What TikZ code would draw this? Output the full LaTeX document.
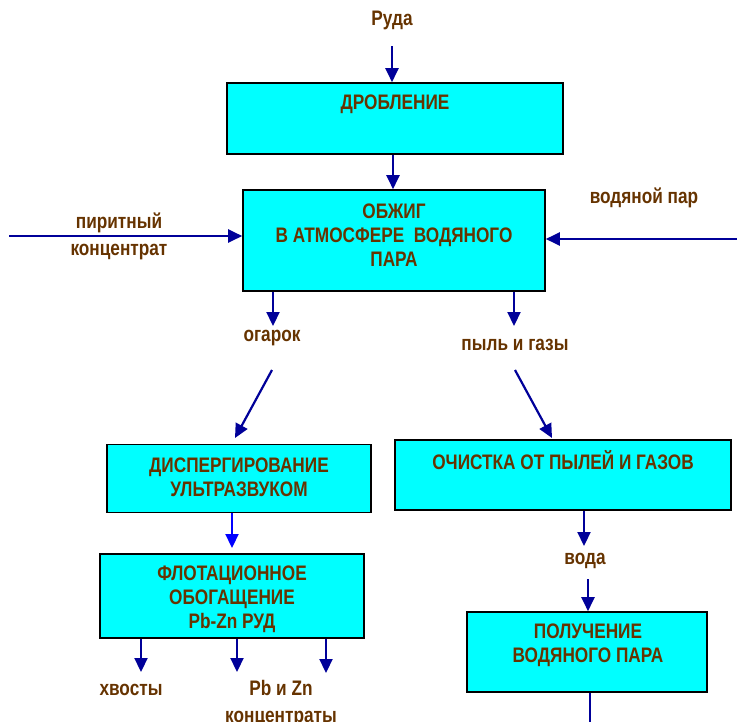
\documentclass[tikz,border=0pt]{standalone}
\usepackage{fontspec}
\setmainfont{Liberation Sans}[FakeStretch=0.82]
\usetikzlibrary{arrows.meta}
\definecolor{boxcyan}{RGB}{0,255,255}
\definecolor{txtbrown}{RGB}{102,51,0}
\definecolor{arrnavy}{RGB}{0,0,153}
\definecolor{arrblue}{RGB}{0,0,255}
\begin{document}
\begin{tikzpicture}[x=1pt,y=-1pt,
  box/.style={draw=black, line width=1.6pt, fill=boxcyan, rectangle, inner sep=0pt},
  lbl/.style={text=txtbrown, font=\bfseries\fontsize{21}{24}\selectfont, align=center, inner sep=0pt},
  arr/.style={draw=arrnavy, line width=2.2pt, -{Triangle[length=14pt,width=13pt]}},
  plainline/.style={draw=arrnavy, line width=2.2pt},
]
\useasboundingbox (0,0) rectangle (737,721);

% boxes
\node[box, minimum width=336pt, minimum height=71pt] (drob) at (395,118.5) {};
\node[box, minimum width=302pt, minimum height=101pt] (obzh) at (394,240.5) {};
\node[box, minimum width=264pt, minimum height=68pt] (disp) at (239,478.5) {};
\node[box, minimum width=336pt, minimum height=70pt] (ochist) at (563,475) {};
\node[box, minimum width=264pt, minimum height=84pt] (flot) at (232,596) {};
\node[box, minimum width=240pt, minimum height=80pt] (polu) at (587,652) {};

% box texts
\node[lbl] (tdrob) at (395,104) {ДРОБЛЕНИЕ};
\node[lbl] (tobzh) at (394,235) {ОБЖИГ\\В АТМОСФЕРЕ\ \ ВОДЯНОГО\\ПАРА};
\node[lbl] (tdisp) at (239,477) {ДИСПЕРГИРОВАНИЕ\\УЛЬТРАЗВУКОМ};
\node[lbl] (tochist) at (563,460) {ОЧИСТКА ОТ ПЫЛЕЙ И ГАЗОВ};
\node[lbl] (tflot) at (232,599) {ФЛОТАЦИОННОЕ\\ОБОГАЩЕНИЕ\\Pb-Zn РУД};
\node[lbl] (tpolu) at (588,645) {ПОЛУЧЕНИЕ\\ВОДЯНОГО ПАРА};

% free labels
\node[lbl] (ruda) at (392,20) {Руда};
\node[lbl] (pirit) at (119,236) {пиритный\\[3pt]концентрат};
\node[lbl] (vodpar) at (644,198) {водяной пар};
\node[lbl] (ogarok) at (272,338) {огарок};
\node[lbl] (pyl) at (515,345) {пыль и газы};
\node[lbl] (voda) at (585,561) {вода};
\node[lbl] (hvost) at (131,690) {хвосты};
\node[lbl, anchor=north] (pbzn) at (281,680) {Pb и Zn\\[3pt]концентраты};

% free ends
\coordinate (rudaA) at (392,46);
\coordinate (piritA) at (9,236);
\coordinate (vodparA) at (737,239);
\coordinate (ogarokE) at (273,326);
\coordinate (pylE) at (514,326);
\coordinate (diagLs) at (272,370);
\coordinate (diagLe) at (235,438);
\coordinate (diagRs) at (515,370);
\coordinate (diagRe) at (552,438);
\coordinate (disp2flot) at (232,548);
\coordinate (ochE) at (584,546);
\coordinate (vodaS) at (588,579);
\coordinate (polEnd) at (590,730);
\coordinate (out1) at (141,672);
\coordinate (out2) at (237,672);
\coordinate (out3) at (326,673);

% connectors
\draw[arr] (rudaA) -- (rudaA |- drob.north);
\draw[arr] (drob.south -| 393,0) -- (obzh.north -| 393,0);
\draw[arr] (piritA) -- (piritA -| obzh.west);
\draw[arr] (vodparA) -- (vodparA -| obzh.east);
\draw[arr] (ogarokE |- obzh.south) -- (ogarokE);
\draw[arr] (pylE |- obzh.south) -- (pylE);
\draw[arr] (diagLs) -- (diagLe);
\draw[arr] (diagRs) -- (diagRe);
\draw[arr, draw=arrblue] (disp2flot |- disp.south) -- (disp2flot);
\draw[arr] (ochE |- ochist.south) -- (ochE);
\draw[arr] (vodaS) -- (vodaS |- polu.north);
\draw[plainline] (polEnd |- polu.south) -- (polEnd);
\draw[arr] (out1 |- flot.south) -- (out1);
\draw[arr] (out2 |- flot.south) -- (out2);
\draw[arr] (out3 |- flot.south) -- (out3);
\end{tikzpicture}
\end{document}
